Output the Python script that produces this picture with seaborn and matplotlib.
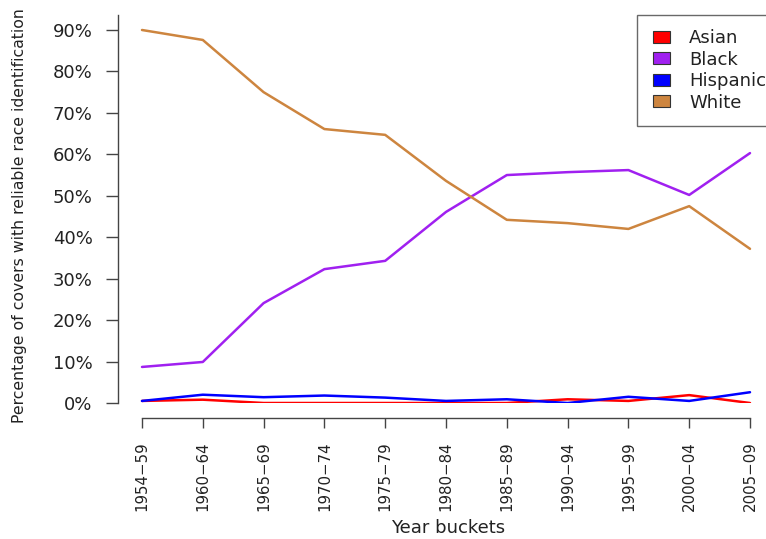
import matplotlib
matplotlib.use("Agg")
import matplotlib.pyplot as plt
from matplotlib.patches import Patch
from matplotlib.legend_handler import HandlerPatch
import seaborn as sns
import pandas as pd

buckets = ["1954\u221259", "1960\u221264", "1965\u221269", "1970\u221274", "1975\u221279",
           "1980\u221284", "1985\u221289", "1990\u221294", "1995\u221299", "2000\u221204",
           "2005\u221209"]
asian = [0.5, 0.8, 0.0, 0.0, 0.0, 0.0, 0.0, 0.9, 0.5, 1.9, 0.0]
black = [8.7, 9.9, 24.1, 32.3, 34.3, 46.1, 55.0, 55.7, 56.2, 50.2, 60.3]
hispanic = [0.5, 2.0, 1.4, 1.8, 1.3, 0.5, 0.9, 0.0, 1.5, 0.5, 2.6]
white = [90.0, 87.6, 75.0, 66.1, 64.7, 53.6, 44.2, 43.4, 42.0, 47.5, 37.2]

groups = ["Asian", "Black", "Hispanic", "White"]
colors = ["#FF0000", "#A020F0", "#0000FF", "#CD853F"]
y_ticks = [0, 10, 20, 30, 40, 50, 60, 70, 80, 90]

series = {"Asian": asian, "Black": black, "Hispanic": hispanic, "White": white}
df = pd.DataFrame(
    [(i, v, g) for g in groups for i, v in enumerate(series[g])],
    columns=["idx", "pct", "group"],
)

sns.set_style("white")
plt.rcParams["font.family"] = ["DejaVu Sans"]

TXT = "#222222"
AX = "#444444"
W, H = 766, 539
fig = plt.figure(figsize=(W / 100, H / 100), dpi=100)
left_px, right_px, top_px, bottom_px = 118, 760, 15, 403
ax = fig.add_axes([left_px / W, (H - bottom_px) / H,
                   (right_px - left_px) / W, (bottom_px - top_px) / H])

sns.lineplot(data=df, x="idx", y="pct", hue="group", hue_order=groups,
             palette=colors, linewidth=1.8, ax=ax, legend=False, sort=False)

# first bucket at 142px, last at 750px
ppu = (750 - 142) / 10
ax.set_xlim(-(142 - left_px) / ppu, 10 + (right_px - 750) / ppu)
ax.set_ylim(0, 90 * (bottom_px - top_px) / (bottom_px - 30))

for s in ["top", "right"]:
    ax.spines[s].set_visible(False)
for s in ["left", "bottom"]:
    ax.spines[s].set_color(AX)
    ax.spines[s].set_linewidth(1.0)
ax.spines["bottom"].set_position(("outward", 10.8))
ax.spines["bottom"].set_bounds(0, 10)

ax.set_xticks(range(len(buckets)))
ax.set_xticklabels(buckets, rotation=90, fontsize=10.8, color=TXT)
ax.set_yticks(y_ticks)
ax.set_yticklabels([f"{t}%" for t in y_ticks], fontsize=13, color=TXT)
ax.tick_params(axis="x", length=7.2, width=1.0, color=AX, pad=9.4, bottom=True)
ax.tick_params(axis="y", length=8.8, width=1.0, color=AX, pad=9.4, left=True)
ax.set_xlabel("")
ax.set_ylabel("")

fig.text(448 / W, 1 - 533 / H, "Year buckets", ha="center", va="baseline",
         fontsize=13, color=TXT)
fig.text(20 / W, 1 - 423 / H, "Percentage of covers with reliable race identification",
         rotation=90, ha="center", va="bottom", fontsize=11.3, color=TXT)

fs = 13
handles = [Patch(facecolor=c, edgecolor="#333333", linewidth=0.8) for c in colors]
leg = fig.legend(handles, groups, loc="upper left",
                 bbox_to_anchor=(637 / W, 1 - 15 / H), bbox_transform=fig.transFigure,
                 borderaxespad=0, fontsize=fs, frameon=True, fancybox=False,
                 handlelength=1.04, handleheight=0.62, handletextpad=1.05,
                 labelspacing=0.19, borderpad=0.79,
                 handler_map={Patch: HandlerPatch(xpad=0.1)})
for t in leg.get_texts():
    t.set_color(TXT)
leg.get_frame().set_edgecolor(AX)
leg.get_frame().set_linewidth(1.0)

fig.savefig("out.png", dpi=100)
